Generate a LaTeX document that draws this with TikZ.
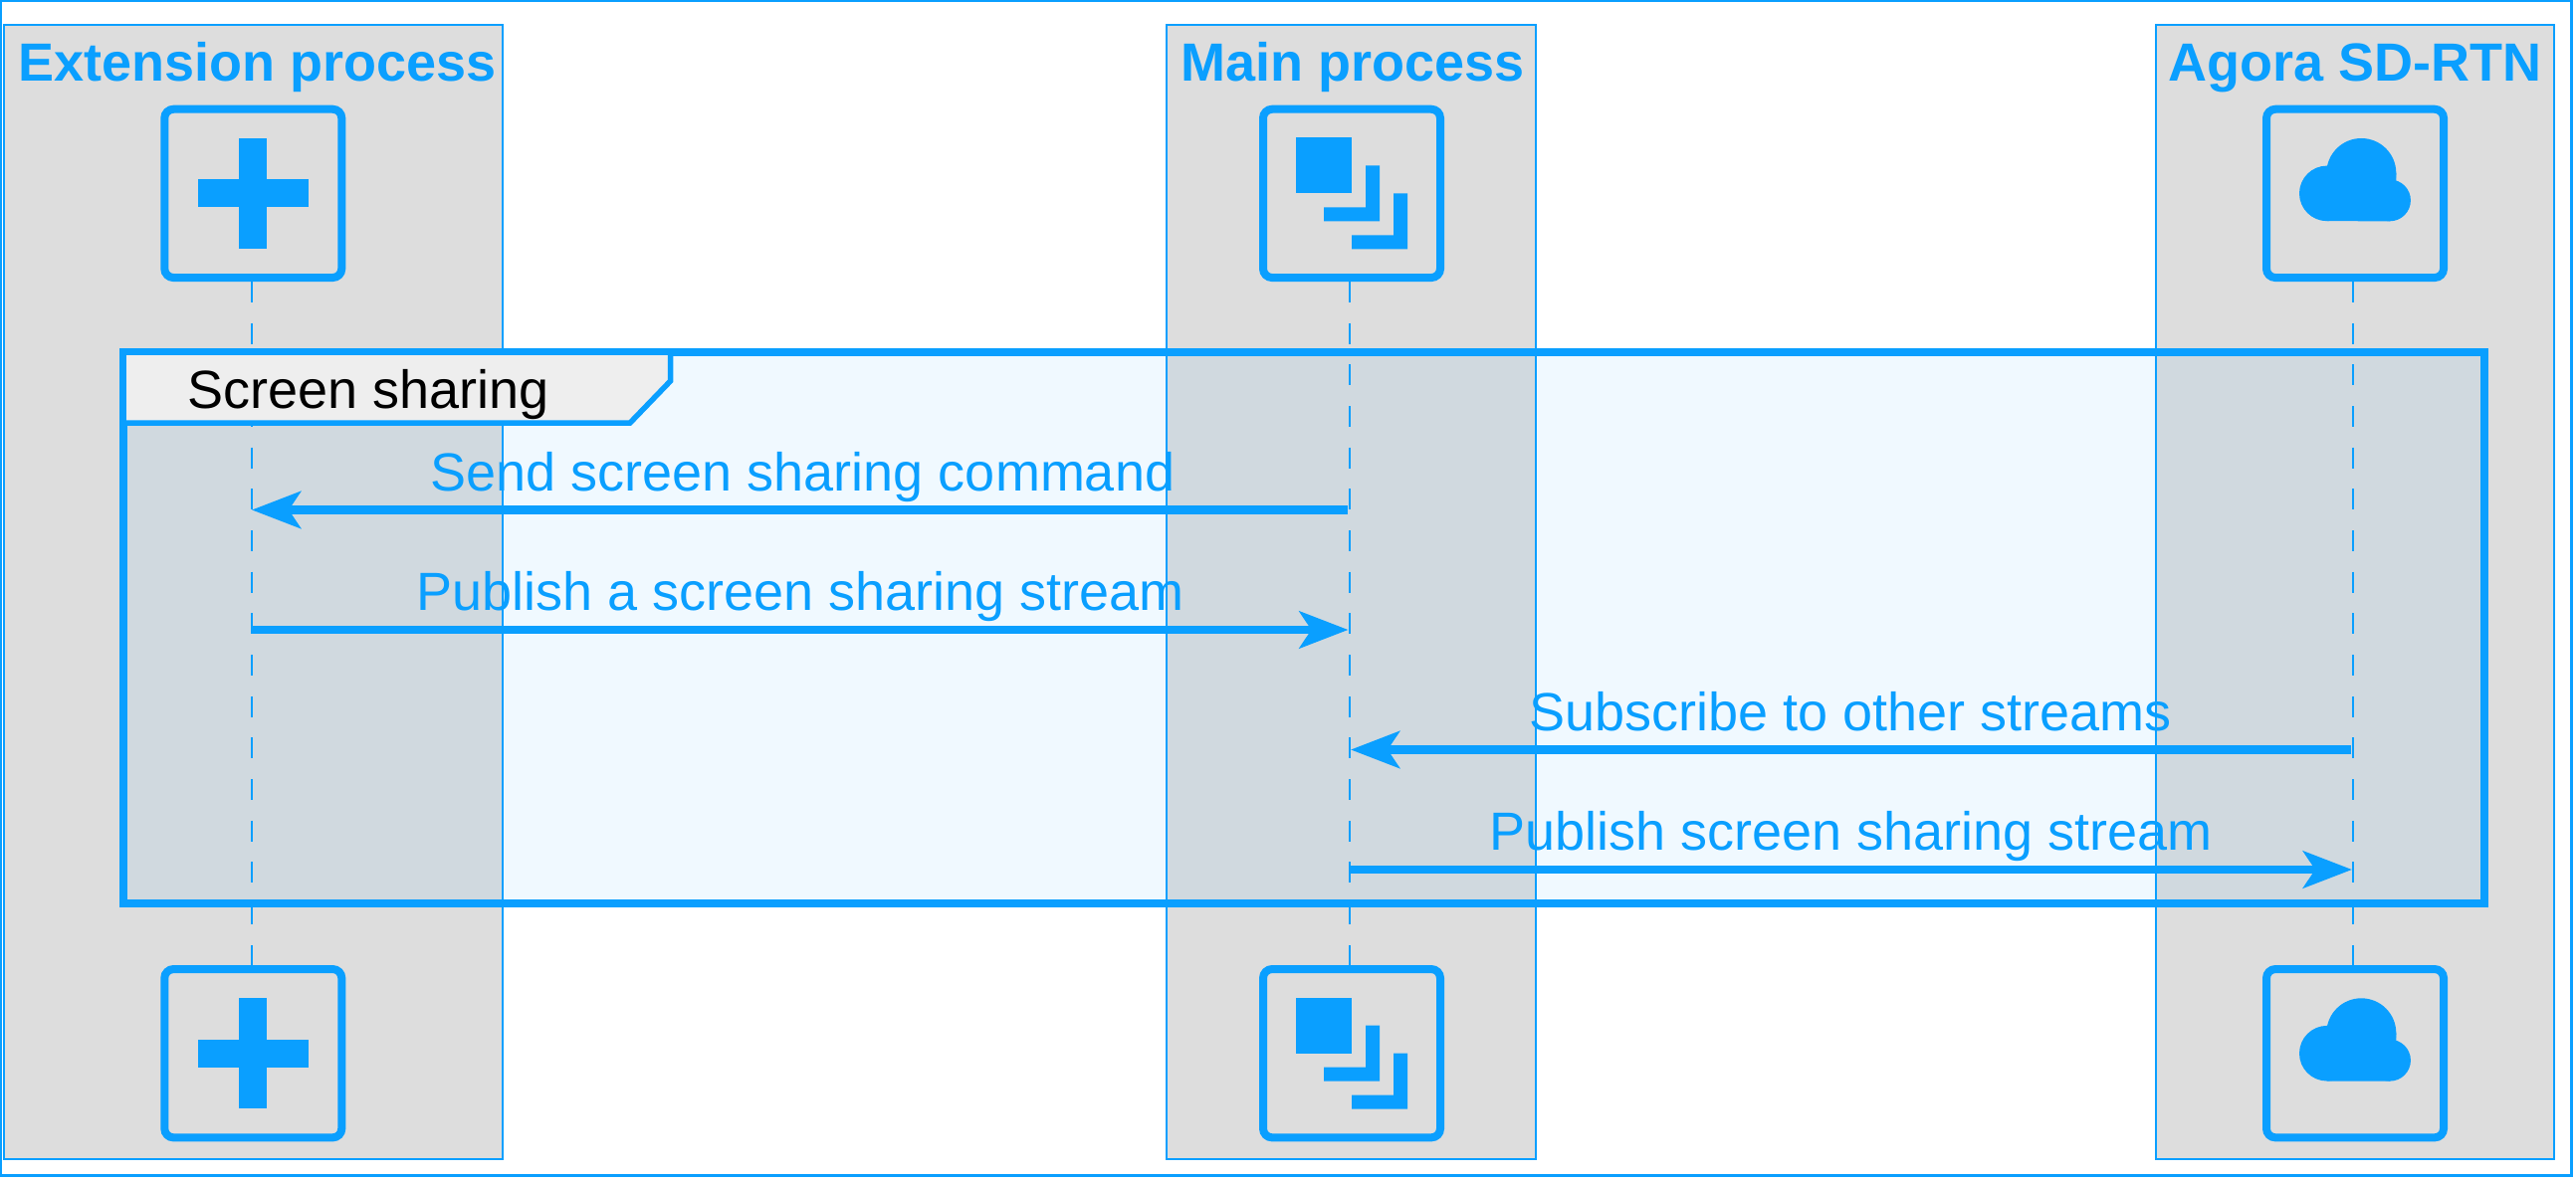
\documentclass[tikz,border=0pt]{standalone}
\usepackage{fontspec}
\setmainfont{Liberation Sans}
\usetikzlibrary{arrows.meta}
\definecolor{lineblue}{HTML}{0A9FFF}
\definecolor{partgrey}{HTML}{DDDDDD}
\definecolor{tabgrey}{HTML}{EEEEEE}
\tikzset{
  partbox/.style={draw=lineblue,line width=2pt,fill=partgrey,minimum width=501pt,minimum height=1140pt,inner sep=0pt,outer sep=0pt},
  parttitle/.style={text=lineblue,font=\fontsize{54}{60}\selectfont\bfseries,anchor=base,inner sep=0pt},
  actorbox/.style={draw=lineblue,line width=8pt,rounded corners=9pt,minimum width=178pt,minimum height=169.3pt,inner sep=0pt,outer sep=0pt},
  lifeline/.style={draw=lineblue,line width=2pt,dash pattern=on 21pt off 20.67pt,dash phase=37.67pt},
  groupbox/.style={draw=lineblue,line width=8pt,fill=lineblue,fill opacity=.06,draw opacity=1,inner sep=0pt,outer sep=0pt,minimum width=2372pt,minimum height=554pt},
  grouptab/.style={draw=lineblue,line width=5.5pt,fill=tabgrey,line join=miter},
  tabtext/.style={text=black,font=\fontsize{54}{60}\selectfont,anchor=base west,inner sep=0pt},
  msg/.style={draw=lineblue,line width=8.5pt,-{Stealth[length=49pt,width=37pt,inset=12pt]}},
  msgtext/.style={text=lineblue,font=\fontsize{54}{60}\selectfont,anchor=base,inner sep=0pt},
  pics/crossicon/.style={code={
    \fill[lineblue] (-14,-55.5) rectangle (14,55.5);
    \fill[lineblue] (-55.5,-14) rectangle (55.5,14);
  }},
  pics/stackicon/.style={code={
    \fill[lineblue] (-56,-56) rectangle (0,0);
    \fill[lineblue] (14,-28) -- (28,-28) -- (28,28) -- (-28,28) -- (-28,14) -- (14,14) -- cycle;
    \fill[lineblue] (42,0) -- (56,0) -- (56,56) -- (0,56) -- (0,42) -- (42,42) -- cycle;
  }},
  pics/cloudicon/.style={code={
    \fill[lineblue] (-28.2,0) circle [radius=27.8];
    \fill[lineblue] (6.3,-20.4) circle [radius=35];
    \fill[lineblue] (35,7) circle [radius=20.9];
    \fill[lineblue] (-28.2,27.8) -- (-28.2,-27.7) -- (41.3,-20.4) -- (41.3,-13.4) -- (35,27.9) -- cycle;
  }},
}
\begin{document}
\begin{tikzpicture}[x=1pt,y=-1pt]
\useasboundingbox (0,0) rectangle (2588,1188);
\fill[white] (0,0) rectangle (2588,1188);
\draw[lineblue,line width=3.4pt] (0.4,0.4) rectangle (2583.3,1181.7);
% participant boxes
\node[partbox] (p1) at (254,595) {};
\node[partbox,minimum width=371pt] (p2) at (1357.8,595) {};
\node[partbox,minimum width=400.3pt] (p3) at (2365.9,595) {};
\node[parttitle] (t1) at (258.2,82) {Extension process};
\node[parttitle] (t2) at (1359,82) {Main process};
\node[parttitle] (t3) at (2366,82) {Agora SD-RTN};
% actors
\node[actorbox] (a1) at (254.3,194.4) {};
\node[actorbox] (a2) at (1358,194.4) {};
\node[actorbox] (a3) at (2366,194.4) {};
\node[actorbox] (b1) at (254.3,1058.7) {};
\node[actorbox] (b2) at (1358,1058.7) {};
\node[actorbox] (b3) at (2366,1058.7) {};
\pic at (a1.center) {crossicon};
\pic at (b1.center) {crossicon};
\pic at (a2.center) {stackicon};
\pic at (b2.center) {stackicon};
\pic at (a3.center) {cloudicon};
\pic at (b3.center) {cloudicon};
% lifelines
\path[lifeline] ([xshift=-1.6pt]a1.south) -- ([xshift=-1.6pt]b1.north);
\path[lifeline] ([xshift=-1.7pt]a2.south) -- ([xshift=-1.7pt]b2.north);
\path[lifeline] ([xshift=-2pt]a3.south) -- ([xshift=-2pt]b3.north);
% group
\node[groupbox] (g) at (1310,631) {};
\draw[grouptab] (g.north west) -- (673.5,354) -- (673.5,383) -- (633,425) -- (124,425) -- cycle;
\node[tabtext] (gt) at (188,410) {Screen sharing};
% message ends
\coordinate (m1a) at (1353.5,512.5); \coordinate (m1b) at (253,512.5);
\coordinate (m2a) at (252.7,633);  \coordinate (m2b) at (1354.5,633);
\coordinate (m3a) at (2362,753.5); \coordinate (m3b) at (1357,753.5);
\coordinate (m4a) at (1356.3,874); \coordinate (m4b) at (2363,874);
\draw[msg] (m1a) -- (m1b);
\draw[msg] (m2a) -- (m2b);
\draw[msg] (m3a) -- (m3b);
\draw[msg] (m4a) -- (m4b);
\node[msgtext] (l1) at (806.5,493) {Send screen sharing command};
\node[msgtext] (l2) at (804.1,613.5) {Publish a screen sharing stream};
\node[msgtext] (l3) at (1859.2,734) {Subscribe to other streams};
\node[msgtext] (l4) at (1859.5,854.5) {Publish screen sharing stream};
\end{tikzpicture}
\end{document}
